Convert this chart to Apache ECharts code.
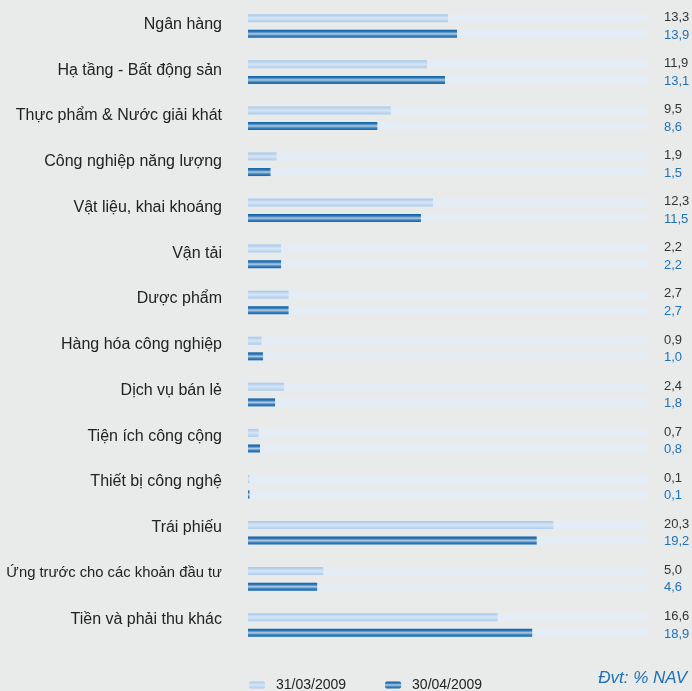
<!DOCTYPE html>
<html><head><meta charset="utf-8">
<script src="https://cdn.jsdelivr.net/npm/echarts@6/dist/echarts.min.js"></script>
<style>html,body{margin:0;padding:0;background:#e9eaea}#c{width:692px;height:691px}</style>
</head><body><div id="c"></div>
<script>
const categories = ["Ngân hàng","Hạ tầng - Bất động sản","Thực phẩm & Nước giải khát","Công nghiệp năng lượng","Vật liệu, khai khoáng","Vận tải","Dược phẩm","Hàng hóa công nghiệp","Dịch vụ bán lẻ","Tiện ích công cộng","Thiết bị công nghệ","Trái phiếu","Ứng trước cho các khoản đầu tư","Tiền và phải thu khác"];
const seriesNames = ["31/03/2009","30/04/2009"];
const marchValues = [13.3,11.9,9.5,1.9,12.3,2.2,2.7,0.9,2.4,0.7,0.1,20.3,5.0,16.6];
const aprilValues = [13.9,13.1,8.6,1.5,11.5,2.2,2.7,1.0,1.8,0.8,0.1,19.2,4.6,18.9];
const unitText = "Đvt: % NAV";

const FONT = 'Liberation Sans, Arial, sans-serif';
const fmt = v => v.toFixed(1).replace('.', ',');
const G = echarts.graphic.LinearGradient;
const lightGrad = new G(0,0,0,1,[{offset:0,color:'#a7c7ea'},{offset:0.5,color:'#d6e6f6'},{offset:1,color:'#adcbeb'}]);
const darkGrad = new G(0,0,0,1,[{offset:0,color:'#0a5ea4'},{offset:0.25,color:'#3479b8'},{offset:0.5,color:'#b3cde3'},{offset:0.75,color:'#3a80bd'},{offset:1,color:'#1268ad'}]);

const chart = echarts.init(document.getElementById('c'));
const mk = (name, data, color, labelColor, ypos) => ({
  name, type: 'bar', data, barWidth: 8, barGap: '95%',
  itemStyle: { color },
  showBackground: true,
  backgroundStyle: { color: '#e4edf5' },
  label: { show: true, position: [416, ypos], align: 'left', verticalAlign: 'middle',
    formatter: p => fmt(p.value), color: labelColor, fontSize: 13, fontFamily: FONT },
  emphasis: { disabled: true }, animation: false
});
const labelData = categories.map(c => ({ value: c, textStyle: { fontSize: c.length > 28 ? 14.8 : 16 } }));
chart.setOption({
  backgroundColor: '#e9eaea',
  animation: false,
  grid: [
    { left: 248, right: 44, top: 3, bottom: 43 },
    { left: 248, right: 44, top: 1.6, bottom: 49 }
  ],
  xAxis: [
    { type: 'value', min: 0, max: 26.6, show: false, gridIndex: 0 },
    { type: 'value', min: 0, max: 26.6, show: false, gridIndex: 1 }
  ],
  yAxis: [
    { type: 'category', data: categories, inverse: true, gridIndex: 0,
      axisLine: { show: false }, axisTick: { show: false }, axisLabel: { show: false } },
    { type: 'category', data: labelData, inverse: true, gridIndex: 1,
      axisLine: { show: false }, axisTick: { show: false }, splitLine: { show: false },
      axisLabel: { color: '#222', fontSize: 16, margin: 26, fontFamily: FONT } }
  ],
  legend: { data: seriesNames, left: 244, top: 673, itemWidth: 16, itemHeight: 7, itemGap: 39,
    textStyle: { color: '#222', fontSize: 14, fontFamily: FONT, padding: [0,0,0,6] } },
  graphic: [{ type: 'text', right: 5, top: 670, style: { text: unitText, fill: '#1f6fb0', fontSize: 17, fontStyle: 'italic', fontFamily: FONT } }],
  series: [ mk(seriesNames[0], marchValues, lightGrad, '#333', '40%'), mk(seriesNames[1], aprilValues, darkGrad, '#1f72b5', '65%') ]
});
</script></body></html>
